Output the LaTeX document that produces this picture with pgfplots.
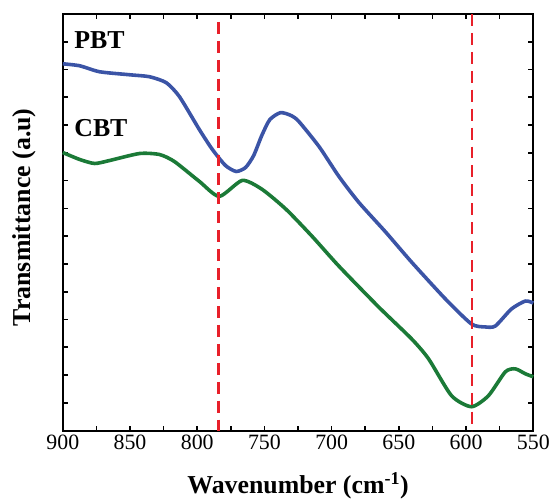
\documentclass[border=0pt]{standalone}
\usepackage{fontspec}
\setmainfont{Liberation Serif}
\usepackage{pgfplots}
\pgfplotsset{compat=1.18}

\definecolor{pbtblue}{RGB}{59,84,166}
\definecolor{cbtgreen}{RGB}{27,122,55}
\definecolor{refred}{RGB}{232,32,42}

\begin{document}
\begin{tikzpicture}[font=\fontsize{21}{25}\selectfont]
\begin{axis}[
    scale only axis,
    width=472bp, height=418bp,
    x dir=reverse,
    xmin=550, xmax=900,
    ymin=0, ymax=418,
    xtick={550,600,...,900},
    minor xtick={575,625,...,875},
    ytick distance=27.8667,
    yticklabels={},
    tick align=inside,
    major tick length=5bp,
    minor tick length=5bp,
    every tick/.style={black, line width=1.6bp},
    every minor tick/.style={black, line width=1.6bp},
    axis line style={line width=2.2bp},
    /pgf/number format/assume math mode=true,
    tick label style={font=\fontsize{22}{26}\selectfont},
    xticklabel style={yshift=-1bp},
    xlabel={\textbf{Wavenumber (cm\textsuperscript{-1})}},
    ylabel={\textbf{Transmittance (a.u)}},
    xlabel style={font=\fontsize{26}{30}\selectfont, at={(axis description cs:0.5,-0.1507)}, anchor=base},
    ylabel style={font=\fontsize{26}{30}\selectfont, at={(axis description cs:-0.0678,0.512)}, anchor=base},
    clip=false,
]
% PBT
\addplot[pbtblue, line width=3.6bp, smooth, tension=0.4] coordinates {
(900,368) (887.4,366) (872.6,360) (850.3,357) (835.5,355) (823.0,349)
(813.2,335) (798.4,302) (788.7,282) (779.0,266) (771.0,260) (764.0,264)
(758.0,276) (752.0,296) (746.0,312) (738.0,319) (730.0,316) (724.3,310)
(709.4,285) (694.6,255) (679.8,229) (659.7,199) (640.5,169) (615.3,132)
(596.0,107) (585.6,104) (578.2,105) (566.3,122) (555.9,130) (550.0,128)
};
% CBT
\addplot[cbtgreen, line width=3.6bp, smooth, tension=0.4] coordinates {
(900,279) (887.4,272) (876.3,268) (865.1,271) (842.9,278) (828.1,277)
(817.0,270) (798.4,250) (783.6,235) (766.5,251) (751.7,242)
(733.9,222) (714.6,195) (694.6,165) (665.0,124) (640.5,92) (627.9,72)
(610.8,35) (596.0,24) (583.4,35) (570.8,59) (563.4,62) (555.9,57) (550.0,54)
};
\draw[refred, line width=2.6bp, dash pattern=on 12bp off 7bp] (axis cs:784.3,410) -- (axis cs:784.3,0);
\draw[refred, line width=2.6bp, dash pattern=on 12bp off 7bp] (axis cs:595.7,418) -- (axis cs:595.7,0);
\node[anchor=west, font=\fontsize{26}{30}\selectfont\bfseries] at (axis cs:894,392) {PBT};
\node[anchor=west, font=\fontsize{26}{30}\selectfont\bfseries] at (axis cs:894,304) {CBT};
\end{axis}
\path ([xshift=-63bp,yshift=-67bp]current axis.south west) rectangle ([xshift=18bp,yshift=14bp]current axis.north east);
\end{tikzpicture}
\end{document}
